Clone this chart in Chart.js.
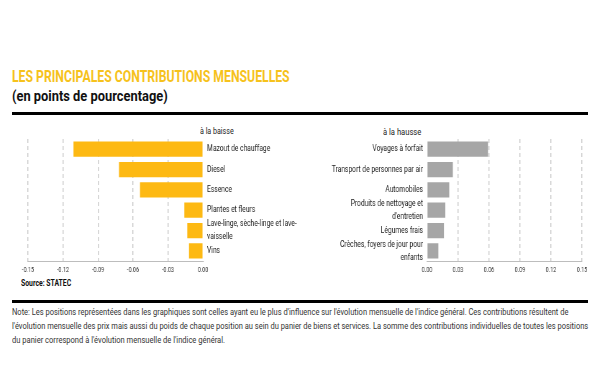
<!DOCTYPE html>
<html><head><meta charset="utf-8">
<script src="https://cdn.jsdelivr.net/npm/chart.js@4.4.0/dist/chart.umd.min.js"></script>
<style>
html,body{margin:0;padding:0;background:#fff;width:600px;height:383px;overflow:hidden;font-family:Roboto,'DejaVu Sans',sans-serif;}
.t{position:absolute;white-space:nowrap;transform-origin:0 0;line-height:1;}
#title{left:12px;top:69px;font-size:16.5px;font-weight:bold;color:#F6C21C;}
#sub{left:12px;top:89px;font-size:15.5px;font-weight:bold;color:#111;}
.rule{position:absolute;left:12px;width:576px;height:3px;background:#000;}
.note{left:12px;font-size:8.7px;color:#333;}
.ptitle{font-size:9px;color:#222;}
#src{left:21px;top:279px;font-size:8.5px;font-weight:bold;color:#111;}
canvas{position:absolute;transform-origin:0 0;}
</style></head>
<body>
<div class="t" id="title" data-w="278">LES PRINCIPALES CONTRIBUTIONS MENSUELLES</div>
<div class="t" id="sub" data-w="156">(en points de pourcentage)</div>
<div class="rule" style="top:112px"></div>
<div class="t ptitle" style="left:200px;top:127px" data-w="34">à la baisse</div>
<div class="t ptitle" style="left:383px;top:128px" data-w="38">à la hausse</div>
<canvas id="cL"></canvas>
<canvas id="cR"></canvas>
<div class="t" id="src" data-w="50">Source: STATEC</div>
<div class="rule" style="top:300px"></div>
<div class="t note" style="top:307.5px" data-w="556">Note: Les positions représentées dans les graphiques sont celles ayant eu le plus d'influence sur l'évolution mensuelle de l'indice général. Ces contributions résultent de</div>
<div class="t note" style="top:322px" data-w="576">l'évolution mensuelle des prix mais aussi du poids de chaque position au sein du panier de biens et services. La somme des contributions individuelles de toutes les positions</div>
<div class="t note" style="top:335.5px" data-w="213">du panier correspond à l'évolution mensuelle de l'indice général.</div>
<script>
const catsDown = ['Mazout de chauffage','Diesel','Essence','Plantes et fleurs',['Lave-linge, sèche-linge et lave-','vaisselle'],'Vins'];
const valsDown = [-0.111,-0.072,-0.054,-0.016,-0.0135,-0.012];
const catsUp = ['Voyages à forfait','Transport de personnes par air','Automobiles',['Produits de nettoyage et',"d'entretien"],'Légumes frais',['Crèches, foyers de jour pour','enfants']];
const valsUp = [0.059,0.025,0.0215,0.0177,0.0164,0.011];
const ticksDown = [-0.15,-0.12,-0.09,-0.06,-0.03,0];
const ticksUp = [0,0.03,0.06,0.09,0.12,0.15];

const F = "Roboto,'DejaVu Sans',sans-serif";
const GRID = '#C8C8C8';
const S = 0.72; // horizontal condensation of the chart canvases

function fit(){
  document.querySelectorAll('.t[data-w]').forEach(el=>{
    const w = el.scrollWidth;
    const target = +el.dataset.w;
    if (w>0) el.style.transform = 'scaleX(' + (target/w) + ')';
  });
}

function makeChart(id, left, top, W, H, labels, vals, ticks, color, side, pad, yWidth, min, max){
  const cv = document.getElementById(id);
  const iw = Math.round(W / S);
  cv.width = iw; cv.height = H;
  cv.style.width = iw + 'px'; cv.style.height = H + 'px';
  cv.style.left = left + 'px'; cv.style.top = top + 'px';
  cv.style.transform = 'scaleX(' + (W / iw) + ')';
  const k = iw / W;
  return new Chart(cv, {
    type:'bar',
    data:{labels:labels, datasets:[{data:vals, backgroundColor:color, barPercentage:0.75, categoryPercentage:1}]},
    options:{
      indexAxis:'y', responsive:false, animation:false, devicePixelRatio:1,
      plugins:{legend:{display:false}, tooltip:{enabled:false}},
      layout:{padding:{left:pad.left*k, right:pad.right*k, top:pad.top, bottom:0}},
      scales:{
        x:{min:min, max:max,
          afterBuildTicks:s=>{ s.ticks = ticks.map(v=>({value:v})); },
          afterFit:s=>{ s.height = 17; },
          grid:{color:c=> (c.tick && Math.abs(c.tick.value)<1e-9) ? 'rgba(0,0,0,0)' : GRID, drawTicks:false, lineWidth:k},
          border:{display:true, color:'#BDBDBD', width:1, dash:[4,3]},
          ticks:{padding:5, font:{size:7.5, family:F}, color:'#333', callback:v=>Number(v).toFixed(2), maxRotation:0}
        },
        y:{position:side,
          afterFit:s=>{ s.width = yWidth*k; s.paddingTop = 0; s.paddingBottom = 0; },
          grid:{display:false, drawTicks:false}, border:{display:false},
          ticks:{padding:4*k, font:{size:9.3, family:F, lineHeight:1.4}, color:'#222', autoSkip:false}
        }
      }
    }
  });
}

window.addEventListener('load', ()=>{
  fit();
  makeChart('cL', 0, 128, 310, 150, catsDown, valsDown, ticksDown, '#FDB913', 'right', {left:28, top:11, right:0}, 107, -0.15, 0);
  makeChart('cR', 310, 128, 290, 150, catsUp, valsUp, ticksUp, '#A6A6A6', 'left', {left:0, top:11, right:18}, 117, 0, 0.15);
});
</script>
</body></html>
